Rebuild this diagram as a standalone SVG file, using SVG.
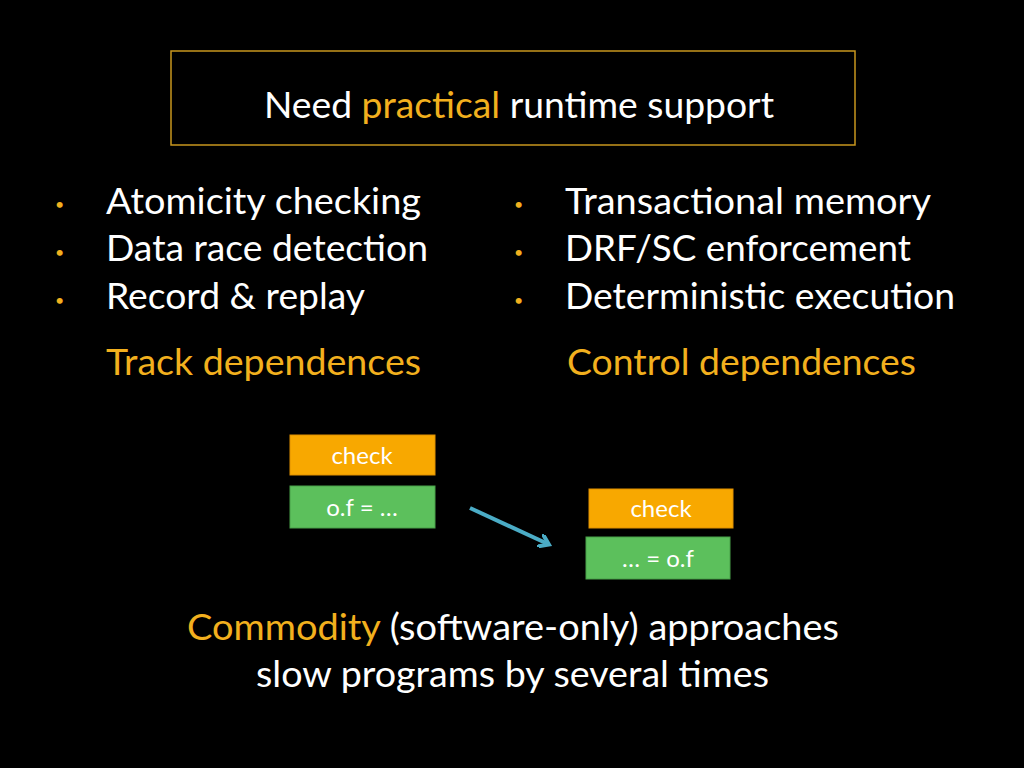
<svg xmlns="http://www.w3.org/2000/svg" width="1024" height="768" viewBox="0 0 1024 768">
<style>
text{font-family:Lato,"Open Sans",sans-serif;fill:#fff}
.t{font-size:36px}
.o{fill:#f2b01e}
.b{font-size:16px;fill:#f2b01e}
.s{font-size:24px;text-anchor:middle}
.org{fill:#f8a800;stroke:#e09000}
.grn{fill:#5cc05c;stroke:#48a048}
</style>
<defs><marker id="ah" markerWidth="14" markerHeight="14" refX="9" refY="7" orient="auto" markerUnits="userSpaceOnUse"><path d="M0,0 L10,7 L0,14" fill="none" stroke="#4bacc6" stroke-width="4"/></marker></defs>
<rect width="1024" height="768" fill="#000"/>
<g id="title"><rect x="171" y="51" width="684" height="94" fill="none" stroke="#c8961e" stroke-width="1.5"/>
<text x="264" y="118" class="t" textLength="510" lengthAdjust="spacingAndGlyphs">Need <tspan class="o">practical</tspan> runtime support</text></g>
<g id="left">
<text x="55" y="210" class="b">•</text><text x="55" y="258" class="b">•</text><text x="55" y="306" class="b">•</text>
<text x="106" y="214" class="t" textLength="315" lengthAdjust="spacingAndGlyphs">Atomicity checking</text>
<text x="106" y="261" class="t" textLength="322" lengthAdjust="spacingAndGlyphs">Data race detection</text>
<text x="106" y="309" class="t" textLength="259" lengthAdjust="spacingAndGlyphs">Record &amp; replay</text>
<text x="106" y="375" class="t o" textLength="315" lengthAdjust="spacingAndGlyphs">Track dependences</text></g>
<g id="right">
<text x="514" y="210" class="b">•</text><text x="514" y="258" class="b">•</text><text x="514" y="306" class="b">•</text>
<text x="565" y="214" class="t" textLength="366" lengthAdjust="spacingAndGlyphs">Transactional memory</text>
<text x="565" y="261" class="t" textLength="346" lengthAdjust="spacingAndGlyphs">DRF/SC enforcement</text>
<text x="565" y="309" class="t" textLength="390" lengthAdjust="spacingAndGlyphs">Deterministic execution</text>
<text x="567" y="375" class="t o" textLength="349" lengthAdjust="spacingAndGlyphs">Control dependences</text></g>
<g id="n1"><rect x="290" y="435" width="145" height="40" class="org"/><text x="362" y="464" class="s">check</text></g>
<g id="n2"><rect x="290" y="486" width="145" height="42" class="grn"/><text x="362" y="516" class="s">o.f = …</text></g>
<g id="n3"><rect x="589" y="489" width="144" height="39" class="org"/><text x="661" y="517" class="s">check</text></g>
<g id="n4"><rect x="586" y="537" width="144" height="42" class="grn"/><text x="658" y="567" class="s">… = o.f</text></g>
<g id="connectors"><line x1="470" y1="508" x2="548" y2="544" stroke="#4bacc6" stroke-width="4" marker-end="url(#ah)"/></g>
<g id="footer">
<text x="187" y="640" class="t" textLength="652" lengthAdjust="spacingAndGlyphs"><tspan class="o">Commodity</tspan> (software-only) approaches</text>
<text x="256" y="687" class="t" textLength="513" lengthAdjust="spacingAndGlyphs">slow programs by several times</text></g>
</svg>
